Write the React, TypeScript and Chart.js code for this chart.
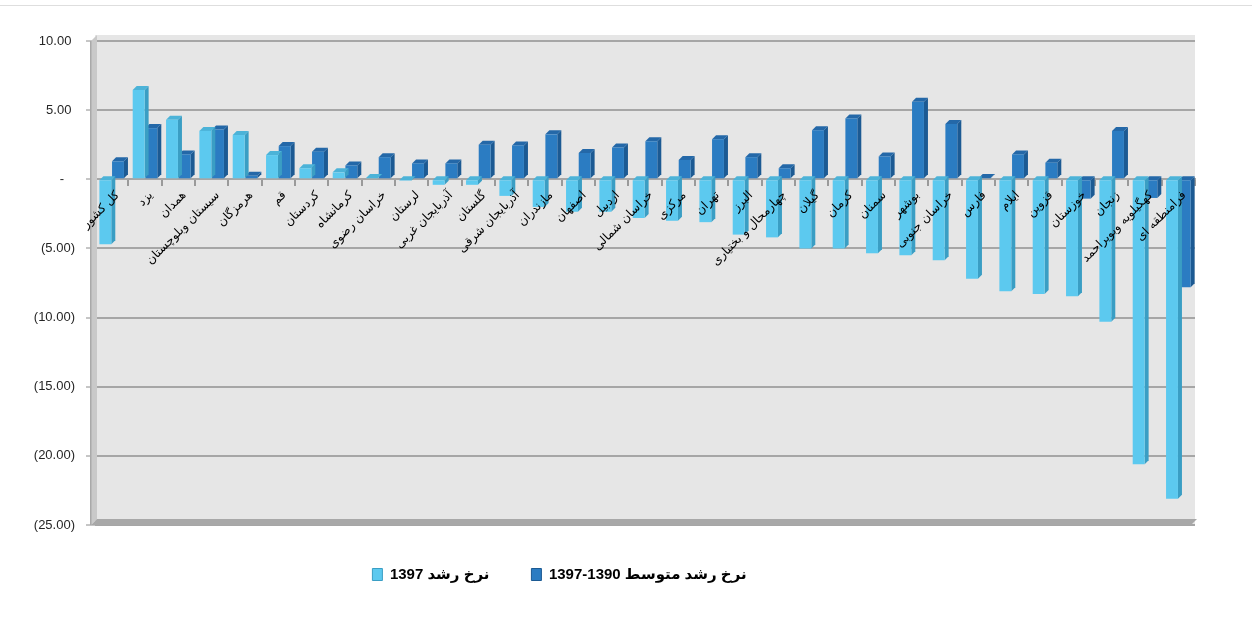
import React, { useEffect, useRef } from "react";
import { Chart, registerables } from "chart.js";

Chart.register(...registerables);

const categories: string[] = [
  "کل کشور", "یزد", "همدان", "سیستان وبلوچستان", "هرمزگان", "قم", "کردستان", "کرمانشاه",
  "خراسان رضوی", "لرستان", "آذربایجان غربی", "گلستان", "آذربایجان شرقی", "مازندران", "اصفهان",
  "اردبیل", "خراسان شمالی", "مرکزی", "تهران", "البرز", "چهارمحال و بختیاری", "گیلان", "کرمان",
  "سمنان", "بوشهر", "خراسان جنوبی", "فارس", "ایلام", "قزوین", "خوزستان", "زنجان",
  "کهگیلویه وبویراحمد", "فرامنطقه ای",
];

const growth1397: number[] = [
  -4.7, 6.45, 4.3, 3.5, 3.2, 1.75, 0.8, 0.5, 0.1, -0.1, -0.4, -0.4, -1.2, -2.0, -2.35,
  -2.35, -2.8, -3.0, -3.1, -4.0, -4.2, -5.0, -5.0, -5.35, -5.5, -5.85, -7.2, -8.1, -8.3,
  -8.45, -10.3, -20.6, -23.1,
];

const growthAvg: number[] = [
  1.3, 3.7, 1.8, 3.6, 0.25, 2.4, 2.0, 1.0, 1.6, 1.15, 1.15, 2.5, 2.45, 3.25, 1.9,
  2.3, 2.75, 1.4, 2.9, 1.6, 0.8, 3.55, 4.4, 1.65, 5.6, 4.0, 0.1, 1.8, 1.2,
  -1.4, 3.5, -1.35, -7.8,
];

const seriesLabels: string[] = ["نرخ رشد 1397", "نرخ رشد متوسط 1390-1397"];
const yTicks: number[] = [10, 5, 0, -5, -10, -15, -20, -25];

const DEPTH = 4;
const FRONT = ["#5cc9ef", "#2b7cc2"];
const SIDE = ["#3a9ec4", "#1c5a93"];
const TOP = ["#4cb3d8", "#2468a8"];

function fmt(v: number): string {
  if (v === 0) return "-   ";
  const s = Math.abs(v).toFixed(2);
  return v < 0 ? `(${s})` : `${s} `;
}

const deco = {
  id: "deco3d",
  beforeDraw(chart: any) {
    const { ctx, chartArea: a } = chart;
    ctx.save();
    ctx.fillStyle = "#ffffff";
    ctx.fillRect(0, 0, chart.width, chart.height);
    ctx.fillStyle = "#dedede";
    ctx.fillRect(0, 5, chart.width, 1);
    ctx.fillStyle = "#e6e6e6";
    ctx.fillRect(a.left, a.top - 6, a.right - a.left, a.bottom - a.top + 6);
    ctx.restore();
  },
  beforeDatasetsDraw(chart: any) {
    const { ctx, chartArea: a } = chart;
    ctx.save();
    ctx.fillStyle = "#c9c9c9";
    ctx.beginPath();
    ctx.moveTo(a.left - 4, a.top);
    ctx.lineTo(a.left + 2, a.top - 6);
    ctx.lineTo(a.left + 2, a.bottom - 6);
    ctx.lineTo(a.left - 4, a.bottom);
    ctx.closePath();
    ctx.fill();
    ctx.fillStyle = "#a9a9a9";
    ctx.fillRect(a.left - 5, a.top, 1.5, a.bottom - a.top);
    ctx.fillStyle = "#a8a8a8";
    ctx.beginPath();
    ctx.moveTo(a.left - 4, a.bottom);
    ctx.lineTo(a.right - 4, a.bottom);
    ctx.lineTo(a.right + 2, a.bottom - 6);
    ctx.lineTo(a.left + 2, a.bottom - 6);
    ctx.closePath();
    ctx.fill();
    ctx.restore();
  },
  beforeDatasetDraw(chart: any, args: any) {
    const { ctx } = chart;
    const i = args.index;
    ctx.save();
    args.meta.data.forEach((el: any) => {
      const { x, y, base, width } = el.getProps(["x", "y", "base", "width"], true);
      const l = x - width / 2;
      const r = x + width / 2;
      const t = Math.min(y, base);
      const b = Math.max(y, base);
      ctx.fillStyle = SIDE[i];
      ctx.beginPath();
      ctx.moveTo(r, t);
      ctx.lineTo(r + DEPTH, t - DEPTH);
      ctx.lineTo(r + DEPTH, b - DEPTH);
      ctx.lineTo(r, b);
      ctx.closePath();
      ctx.fill();
      ctx.fillStyle = TOP[i];
      ctx.beginPath();
      ctx.moveTo(l, t);
      ctx.lineTo(l + DEPTH, t - DEPTH);
      ctx.lineTo(r + DEPTH, t - DEPTH);
      ctx.lineTo(r, t);
      ctx.closePath();
      ctx.fill();
    });
    ctx.restore();
  },
  afterLayout(chart: any) {
    const lg = chart.legend;
    if (lg) {
      lg.left -= 38;
      lg.right -= 38;
    }
  },
};

export default function App() {
  const ref = useRef<HTMLCanvasElement | null>(null);

  useEffect(() => {
    if (!ref.current) return;
    const chart = new Chart(ref.current, {
      type: "bar",
      data: {
        labels: categories,
        datasets: [
          {
            label: seriesLabels[0],
            data: growth1397,
            backgroundColor: FRONT[0],
            borderWidth: 0,
            categoryPercentage: 0.76,
            barPercentage: 0.94,
          },
          {
            label: seriesLabels[1],
            data: growthAvg,
            backgroundColor: FRONT[1],
            borderWidth: 0,
            categoryPercentage: 0.76,
            barPercentage: 0.94,
          },
        ],
      },
      options: {
        responsive: false,
        animation: false,
        devicePixelRatio: 1,
        layout: { padding: { left: 0, right: 57, top: 41, bottom: 33 } },
        plugins: {
          tooltip: { enabled: false },
          legend: {
            position: "bottom",
            labels: {
              boxWidth: 10,
              boxHeight: 12,
              padding: 42,
              color: "#111111",
              font: { family: "'Liberation Sans', 'DejaVu Sans', sans-serif", size: 15, weight: "bold" },
              generateLabels: (c: any) =>
                c.data.datasets.map((ds: any, i: number) => ({
                  text: ds.label,
                  fillStyle: FRONT[i],
                  strokeStyle: SIDE[i],
                  lineWidth: 1,
                  datasetIndex: i,
                  hidden: false,
                })),
            },
          },
        },
        scales: {
          x: {
            type: "category",
            position: { y: 0 } as any,
            grid: {
              offset: true,
              drawOnChartArea: false,
              drawTicks: true,
              tickLength: 6,
              color: "#9a9a9a",
              lineWidth: 2,
            },
            border: { display: true, color: "#a6a6a6", width: 2 },
            ticks: {
              z: 1,
              autoSkip: false,
              minRotation: 45,
              maxRotation: 45,
              padding: 3,
              labelOffset: 6,
              color: "#000000",
              font: { family: "'DejaVu Sans', sans-serif", size: 12 },
            },
          },
          y: {
            min: -25,
            max: 10,
            afterFit: (s: any) => {
              s.width = 95;
            },
            afterBuildTicks: (s: any) => {
              s.ticks = yTicks.map((v) => ({ value: v }));
            },
            grid: {
              color: "#a6a6a6",
              lineWidth: 2,
              drawTicks: true,
              tickLength: 9,
              tickColor: "#8c8c8c",
              tickWidth: 1,
            },
            border: { display: false },
            ticks: {
              padding: 11,
              color: "#262626",
              font: { family: "'Liberation Sans', sans-serif", size: 13 },
              callback: (v: any) => fmt(Number(v)),
            },
          },
        },
      },
      plugins: [deco],
    } as any);
    return () => chart.destroy();
  }, []);

  return (
    <div style={{ position: "absolute", left: 0, top: 0, width: 1252, height: 625, background: "#fff" }}>
      <canvas ref={ref} width={1252} height={625} />
    </div>
  );
}
